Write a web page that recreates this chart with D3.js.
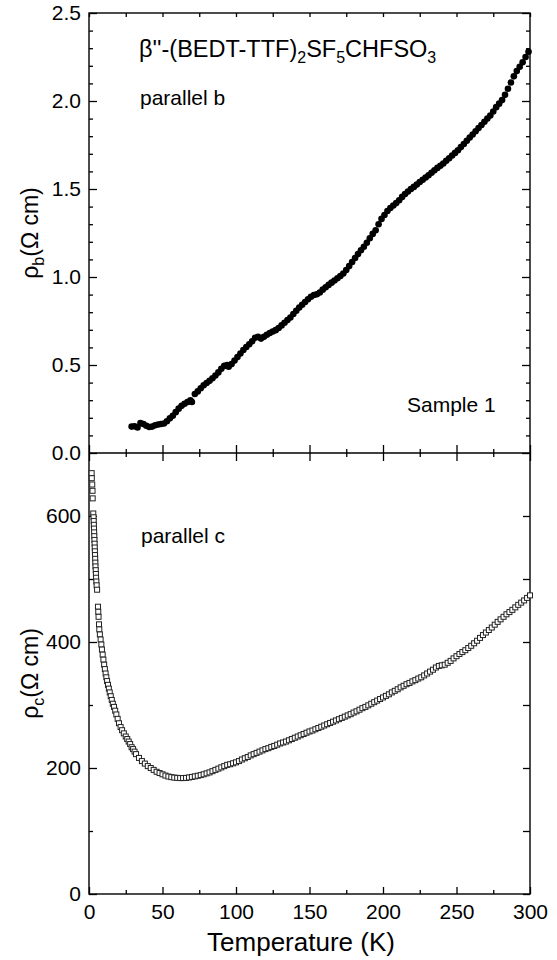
<!DOCTYPE html>
<html>
<head>
<meta charset="utf-8">
<script src="https://cdn.jsdelivr.net/npm/d3@7"></script>
<style>
  body { margin: 0; background: #fff; }
  svg { font-family: "Liberation Sans", Arial, sans-serif; }
  .axis path { display: none; }
  .axis line { stroke: #000; stroke-width: 1.3px; }
  .axis text { font-size: 21px; fill: #000; }
</style>
</head>
<body>
<svg id="chart" width="557" height="960"></svg>
<script>

var dimensions = {
    width: 557,
    height: 960,
    margin: { left: 89, right: 27, top: 13, bottom: 66 },
    mid: 453
}

// rho_b, parallel b (filled circles)
var tempB = [29, 31, 33, 35, 37, 39, 41, 43, 45, 47, 49, 51, 53, 55, 57, 59, 61, 63, 65, 67,
  69, 70, 72, 74, 76, 78, 80, 82, 84, 86, 88, 90, 92, 94, 95, 97, 99, 101, 103, 105,
  107, 109, 111, 113, 115, 117, 119, 121, 123, 125, 127, 129, 131, 133, 135, 137, 139, 141, 143, 145,
  147, 149, 151, 153, 155, 157, 159, 161, 163, 165, 167, 169, 171, 173, 175, 177, 179, 181, 183, 185,
  187, 189, 191, 193, 195, 197, 199, 201, 203, 205, 207, 209, 211, 213, 215, 217, 219, 221, 223, 225,
  227, 229, 231, 233, 235, 237, 239, 241, 243, 245, 247, 249, 251, 253, 255, 257, 259, 261, 263, 265,
  267, 269, 271, 273, 275, 277, 279, 281, 283, 285, 287, 289, 291, 293, 295, 297, 299];
var rhoB = [0.150, 0.152, 0.145, 0.170, 0.165, 0.155, 0.148, 0.150, 0.158, 0.162, 0.165, 0.168, 0.180, 0.197, 0.212, 0.232, 0.252, 0.268, 0.280, 0.290,
  0.300, 0.290, 0.335, 0.350, 0.368, 0.385, 0.398, 0.410, 0.425, 0.440, 0.458, 0.478, 0.495, 0.500, 0.490, 0.505, 0.525, 0.545, 0.565, 0.585,
  0.602, 0.618, 0.635, 0.655, 0.660, 0.650, 0.660, 0.672, 0.682, 0.690, 0.698, 0.710, 0.725, 0.740, 0.755, 0.770, 0.790, 0.808, 0.826, 0.842,
  0.858, 0.874, 0.888, 0.898, 0.902, 0.912, 0.928, 0.942, 0.955, 0.968, 0.980, 0.993, 1.006, 1.020, 1.040, 1.062, 1.085, 1.108, 1.130, 1.152,
  1.172, 1.195, 1.220, 1.245, 1.265, 1.300, 1.330, 1.352, 1.375, 1.392, 1.406, 1.420, 1.436, 1.455, 1.472, 1.486, 1.500, 1.512, 1.525, 1.540,
  1.552, 1.565, 1.578, 1.592, 1.606, 1.620, 1.632, 1.645, 1.660, 1.675, 1.690, 1.705, 1.720, 1.738, 1.756, 1.774, 1.792, 1.810, 1.828, 1.846,
  1.864, 1.882, 1.900, 1.918, 1.940, 1.965, 1.985, 2.005, 2.035, 2.070, 2.105, 2.140, 2.170, 2.195, 2.220, 2.250, 2.280];

// rho_c, parallel c (open squares)
var tempC = [1.8, 1.9, 2.2, 2.4, 2.5, 2.9, 3.1, 3.2, 3.3, 3.4, 3.5, 3.6, 3.7, 3.8, 3.9, 4.0, 4.1, 4.2, 4.3, 4.4,
  4.6, 4.7, 4.8, 5.0, 5.2, 5.5, 6.1, 6.3, 6.5, 6.8, 7.0, 7.4, 7.9, 8.4, 8.8, 9.3, 9.8, 10.3, 10.8, 11.3,
  11.8, 12.3, 12.9, 13.5, 14.1, 14.8, 15.5, 16.2, 17.0, 17.8, 18.6, 19.5, 20.4, 21.5, 22.5, 23.7, 25, 26, 27, 28,
  29, 30, 31, 32, 34, 36, 38, 40, 42, 44, 46, 48, 50, 52, 54, 56, 58, 60, 62, 64,
  66, 68, 70, 72, 74, 76, 78, 80, 82, 84, 86, 88, 90, 92, 94, 96, 98, 100, 102, 104,
  106, 108, 110, 112, 114, 116, 118, 120, 122, 124, 126, 128, 130, 132, 134, 136, 138, 140, 142, 144,
  146, 148, 150, 152, 154, 156, 158, 160, 162, 164, 166, 168, 170, 172, 174, 176, 178, 180, 182, 184,
  186, 188, 190, 192, 194, 196, 198, 200, 202, 204, 206, 208, 210, 212, 214, 216, 218, 220, 222, 224,
  226, 228, 230, 232, 234, 236, 238, 240, 242, 244, 246, 248, 250, 252, 254, 256, 258, 260, 262, 264,
  266, 268, 270, 272, 274, 276, 278, 280, 282, 284, 286, 288, 290, 292, 294, 296, 298, 300];
var rhoC = [668, 660, 650, 640, 628, 604, 598, 592, 586, 580, 574, 568, 562, 556, 550, 544, 538, 532, 526, 520,
  514, 508, 502, 496, 490, 483, 456, 448, 440, 428, 420, 412, 404, 396, 388, 380, 372, 364, 357, 350,
  344, 338, 332, 326, 320, 314, 308, 302, 297, 291, 285, 278, 271, 265, 260, 255, 250, 246, 242, 238,
  233, 230, 226, 222, 216, 211, 207, 203, 200, 197, 194, 192, 190, 188, 186.5, 185.5, 184.8, 184.3, 184, 184,
  184.3, 185, 185.8, 186.7, 187.7, 188.7, 190, 191.5, 193, 195, 197, 199, 201, 203, 205, 206, 207.5, 209, 211, 213.5,
  215.5, 217.5, 220, 222, 224, 226, 228, 230, 231.5, 233.5, 235, 237, 239, 240.5, 242, 244, 246, 248, 250, 252,
  254, 256, 258, 259.5, 261.5, 263.5, 265.5, 267.5, 269.5, 271.5, 273.5, 275.5, 277.5, 279.5, 281.5, 283.5, 285.5, 288, 290, 292.5,
  295, 297, 299.5, 302, 304.5, 307, 309.5, 312, 314.5, 317, 320, 322.5, 325, 328, 330.5, 333, 335, 337.5, 339.5, 342,
  344, 347, 350, 353, 356, 359.5, 362, 363, 364, 367, 370, 374, 377.5, 381, 384, 387, 390.5, 394, 398, 402,
  406.5, 411, 415, 419, 423, 427.5, 432, 436, 440, 444, 447.5, 451, 455, 459, 462.5, 466, 470, 474];

var xMajor = [0, 50, 100, 150, 200, 250, 300];
var xMinor = [25, 75, 125, 175, 225, 275];
var yBTicks = [0, 0.5, 1.0, 1.5, 2.0, 2.5];
var yCTicks = [0, 200, 400, 600];

var dataB = tempB.map(function(t, i) { return { t: t, r: rhoB[i] }; });
var dataC = tempC.map(function(t, i) { return { t: t, r: rhoC[i] }; });

var svg = d3.select("#chart");

var xLeft = dimensions.margin.left,
    xRight = dimensions.width - dimensions.margin.right,
    yTop = dimensions.margin.top,
    yMid = dimensions.mid,
    yBottom = dimensions.height - dimensions.margin.bottom;

var xScale = d3.scaleLinear().domain([0, 300]).range([xLeft, xRight]);
var yB = d3.scaleLinear().domain([0, 2.5]).range([yMid, yTop]);
var yC = d3.scaleLinear().domain([0, 700]).range([yBottom, yMid]);

var bMinor = d3.range(0, 26).map(function(i) { return i / 10; }).filter(function(v) { return Math.round(v * 10) % 5 != 0; });
var cMinor = [100, 300, 500];

function addAxis(gen, tx, ty) {
    return svg.append("g")
        .attr("class", "axis")
        .attr("transform", "translate(" + tx + "," + ty + ")")
        .call(gen);
}

// top panel
addAxis(d3.axisLeft(yB).tickValues(yBTicks).tickSize(-8).tickPadding(8).tickFormat(d3.format(".1f")), xLeft, 0);
addAxis(d3.axisLeft(yB).tickValues(bMinor).tickSize(-4).tickFormat(""), xLeft, 0);
addAxis(d3.axisRight(yB).tickValues(yBTicks).tickSize(-8).tickFormat(""), xRight, 0);
addAxis(d3.axisRight(yB).tickValues(bMinor).tickSize(-4).tickFormat(""), xRight, 0);
addAxis(d3.axisTop(xScale).tickValues(xMajor.concat(xMinor)).tickSize(-4).tickFormat(""), 0, yTop);
addAxis(d3.axisBottom(xScale).tickValues(xMajor).tickSize(-8).tickFormat(""), 0, yMid);
addAxis(d3.axisBottom(xScale).tickValues(xMinor).tickSize(-4).tickFormat(""), 0, yMid);

// bottom panel
addAxis(d3.axisTop(xScale).tickValues(xMajor).tickSize(-8).tickFormat(""), 0, yMid);
addAxis(d3.axisTop(xScale).tickValues(xMinor).tickSize(-4).tickFormat(""), 0, yMid);
addAxis(d3.axisLeft(yC).tickValues(yCTicks).tickSize(-8).tickPadding(8), xLeft, 0);
addAxis(d3.axisLeft(yC).tickValues(cMinor).tickSize(-4).tickFormat(""), xLeft, 0);
addAxis(d3.axisRight(yC).tickValues(yCTicks).tickSize(-7).tickFormat(""), xRight, 0);
addAxis(d3.axisRight(yC).tickValues(cMinor).tickSize(-7).tickFormat(""), xRight, 0);
addAxis(d3.axisBottom(xScale).tickValues(xMajor).tickSize(-7).tickPadding(10), 0, yBottom);
addAxis(d3.axisBottom(xScale).tickValues(xMinor).tickSize(-4).tickFormat(""), 0, yBottom);

// frames
svg.append("rect")
    .attr("x", xLeft).attr("y", yTop)
    .attr("width", xRight - xLeft).attr("height", yBottom - yTop)
    .attr("fill", "none").attr("stroke", "#000").attr("stroke-width", 1.4);
svg.append("line")
    .attr("x1", xLeft).attr("x2", xRight).attr("y1", yMid).attr("y2", yMid)
    .attr("stroke", "#000").attr("stroke-width", 1.4);

// data
svg.append("g").selectAll("circle")
    .data(dataB)
    .enter()
    .append("circle")
    .attr("cx", function(d) { return xScale(d.t); })
    .attr("cy", function(d) { return yB(d.r); })
    .attr("r", 3.3)
    .attr("fill", "#000");

var sq = 5;
svg.append("g").selectAll("rect")
    .data(dataC)
    .enter()
    .append("rect")
    .attr("x", function(d) { return xScale(d.t) - sq / 2; })
    .attr("y", function(d) { return yC(d.r) - sq / 2; })
    .attr("width", sq)
    .attr("height", sq)
    .attr("fill", "#fff")
    .attr("stroke", "#222")
    .attr("stroke-width", 1);

// labels
var title = svg.append("text")
    .attr("x", 139).attr("y", 57)
    .style("font-size", "23.5px");
title.append("tspan").text("\u03b2''-(BEDT-TTF)");
title.append("tspan").attr("dy", 6).style("font-size", "16px").text("2");
title.append("tspan").attr("dy", -6).text("SF");
title.append("tspan").attr("dy", 6).style("font-size", "16px").text("5");
title.append("tspan").attr("dy", -6).text("CHFSO");
title.append("tspan").attr("dy", 6).style("font-size", "16px").text("3");

svg.append("text").attr("x", 140).attr("y", 105).style("font-size", "21px").text("parallel b");
svg.append("text").attr("x", 407).attr("y", 412).style("font-size", "21px").text("Sample 1");
svg.append("text").attr("x", 141).attr("y", 543).style("font-size", "21px").text("parallel c");

svg.append("text")
    .attr("x", 301).attr("y", 951)
    .attr("text-anchor", "middle")
    .style("font-size", "26px")
    .text("Temperature (K)");

function yLabel(sub, cy) {
    var t = svg.append("text")
        .attr("transform", "translate(38," + cy + ") rotate(-90)")
        .attr("text-anchor", "middle")
        .style("font-size", "23px");
    t.append("tspan").text("\u03c1");
    t.append("tspan").attr("dy", 6).style("font-size", "16px").text(sub);
    t.append("tspan").attr("dy", -6).text("(\u03a9 cm)");
}
yLabel("b", (yTop + yMid) / 2);
yLabel("c", (yMid + yBottom) / 2);

</script>
</body>
</html>
